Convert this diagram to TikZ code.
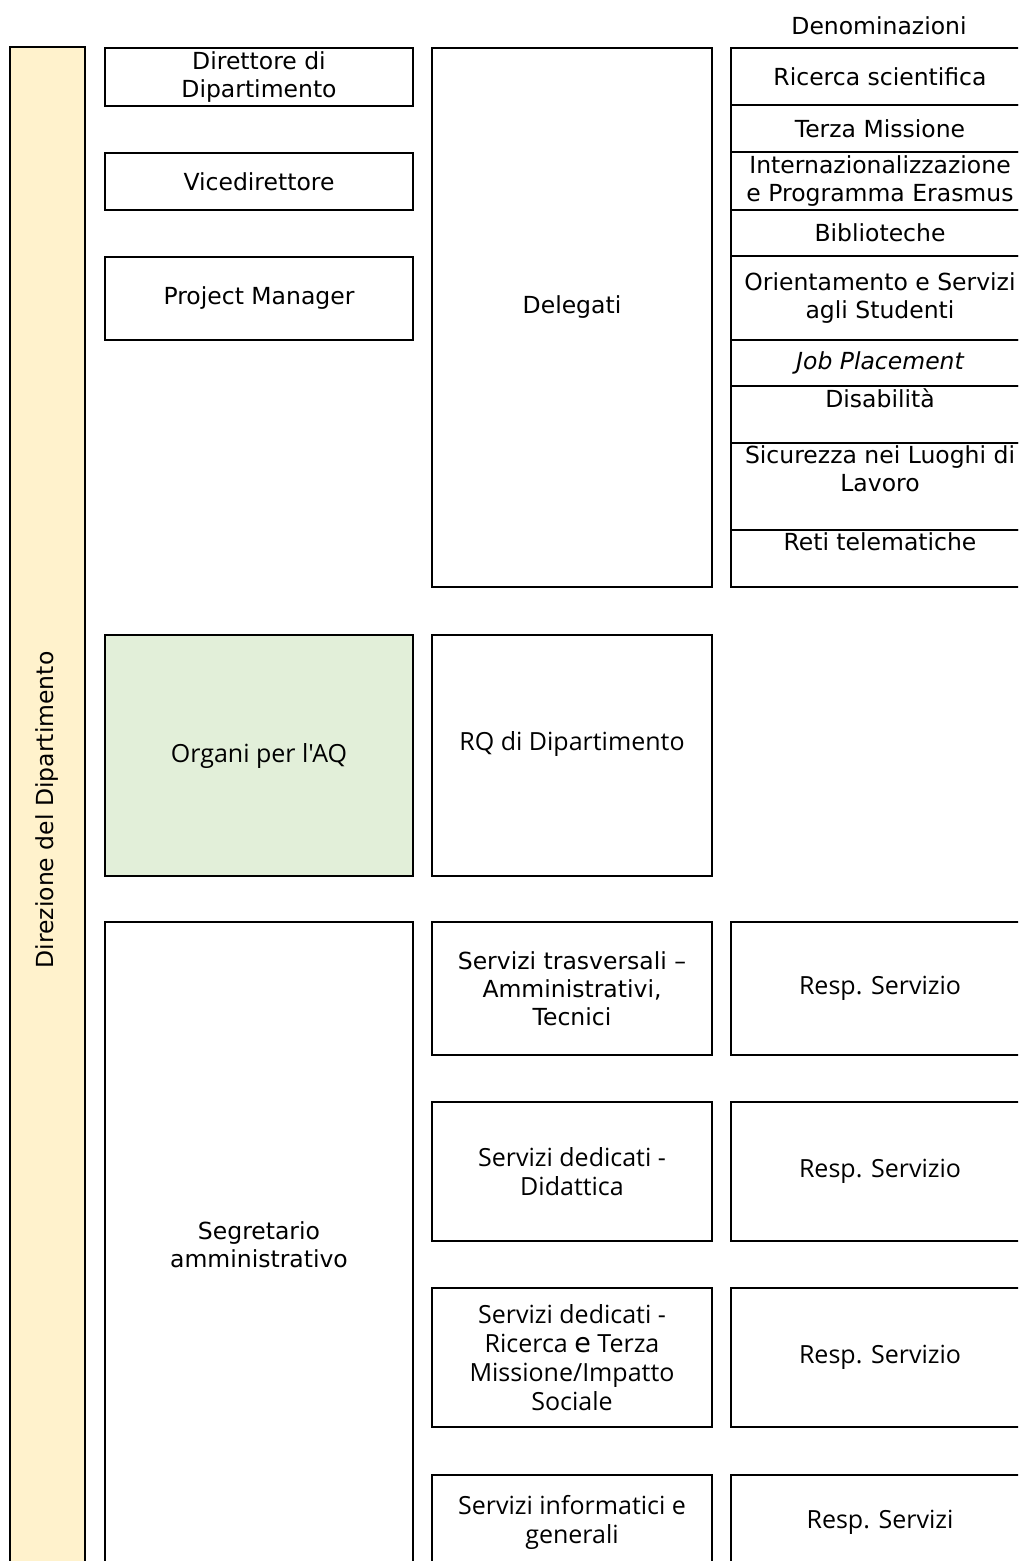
\documentclass[tikz,border=0pt]{standalone}
\usepackage{fontspec}
\setmainfont{DejaVu Sans}
\newfontfamily\plexfont{Open Sans}
\usepackage{tikz}

\tikzset{
  box/.style={draw, line width=1.6pt, fill=white, align=center, inner sep=2pt,
    font=\fontsize{23.5}{28}\selectfont},
  lowbox/.style={box, font=\plexfont\fontsize{25}{29}\selectfont},
  aqbox/.style={lowbox, fill=aqgreen},
  dirbar/.style={draw, line width=1.6pt, fill=dirbarfill},
  toplab/.style={anchor=north, inner sep=3pt, align=center, font=\fontsize{23.5}{28}\selectfont}
}
\definecolor{dirbarfill}{HTML}{FFF2CC}
\definecolor{aqgreen}{HTML}{E2EFD9}

\begin{document}
\begin{tikzpicture}[x=1pt, y=-1pt]
    \useasboundingbox (0,0) rectangle (1018,1561);
    \clip (0,0) rectangle (1018,1561);
    % barra laterale
    \node[dirbar, minimum width=75pt, minimum height=1560pt] (direz) at (47.5,827) {};
    \node[rotate=90, font=\fontsize{23.5}{28}\selectfont] (direz-txt) at (47.5,810) {Direzione del Dipartimento};
    \node[font=\fontsize{23.5}{28}\selectfont] (denom) at (879,26) {Denominazioni};
    % seconda colonna
    \node[box, minimum width=308pt, minimum height=58pt] (dirdip) at (259,77) {Direttore di\\Dipartimento};
    \node[box, minimum width=308pt, minimum height=57pt] (vice) at (259,181.5) {Vicedirettore};
    \node[box, minimum width=308pt, minimum height=83pt] (pm) at (259,298.5) {Project Manager};
    \node[aqbox, minimum width=308pt, minimum height=241pt] (organi) at (259,755.5) {Organi per l'AQ};
    \node[box, minimum width=308pt, minimum height=646pt] (segr) at (259,1245) {Segretario\\amministrativo};
    % terza colonna
    \node[box, minimum width=280pt, minimum height=539pt,
      label={[box, draw=none, fill=none, yshift=10pt]center:Delegati}] (deleg) at (572,317.5) {};
    \node[lowbox, minimum width=280pt, minimum height=241pt,
      label={[lowbox, draw=none, fill=none, yshift=12pt]center:RQ di Dipartimento}] (rq) at (572,755.5) {};
    \node[box, minimum width=280pt, minimum height=133pt] (strasv) at (572,988.5) {Servizi trasversali --\\Amministrativi,\\Tecnici};
    \node[lowbox, minimum width=280pt, minimum height=139pt] (sdid) at (572,1171.5) {Servizi dedicati -\\Didattica};
    \node[lowbox, minimum width=280pt, minimum height=139pt] (sric) at (572,1357.5) {Servizi dedicati -\\Ricerca {\rmfamily\fontsize{27}{29}\selectfont e} Terza\\Missione/Impatto\\Sociale};
    \node[lowbox, minimum width=280pt, minimum height=94pt] (sinf) at (572,1522) {Servizi informatici e\\generali};
    % denominazioni dei delegati
    \node[box, minimum width=298pt, minimum height=57pt] (ricerca) at (880,76.5) {Ricerca scientifica};
    \node[box, minimum width=298pt, minimum height=47pt] (terza) at (880,128.5) {Terza Missione};
    \node[box, minimum width=298pt, minimum height=58pt] (intern) at (880,181) {Internazionalizzazione\\e Programma Erasmus};
    \node[box, minimum width=298pt, minimum height=46pt] (biblio) at (880,233) {Biblioteche};
    \node[box, minimum width=298pt, minimum height=84pt] (orient) at (880,298) {Orientamento e Servizi\\agli Studenti};
    \node[box, minimum width=298pt, minimum height=46pt] (job) at (880,363) {\itshape Job Placement};
    \node[box, minimum width=298pt, minimum height=57pt,
      label={[toplab]north:Disabilità}] (disab) at (880,414.5) {};
    \node[box, minimum width=298pt, minimum height=87pt,
      label={[toplab]north:Sicurezza nei Luoghi di\\Lavoro}] (sicur) at (880,486.5) {};
    \node[box, minimum width=298pt, minimum height=57pt,
      label={[toplab]north:Reti telematiche}] (reti) at (880,558.5) {};
    % responsabili dei servizi
    \node[lowbox, minimum width=298pt, minimum height=133pt] (resp1) at (880,988.5) {Resp. Servizio};
    \node[lowbox, minimum width=298pt, minimum height=139pt] (resp2) at (880,1171.5) {Resp. Servizio};
    \node[lowbox, minimum width=298pt, minimum height=139pt] (resp3) at (880,1357.5) {Resp. Servizio};
    \node[lowbox, minimum width=298pt, minimum height=94pt] (resp4) at (880,1522) {Resp. Servizi};
\end{tikzpicture}
\end{document}
